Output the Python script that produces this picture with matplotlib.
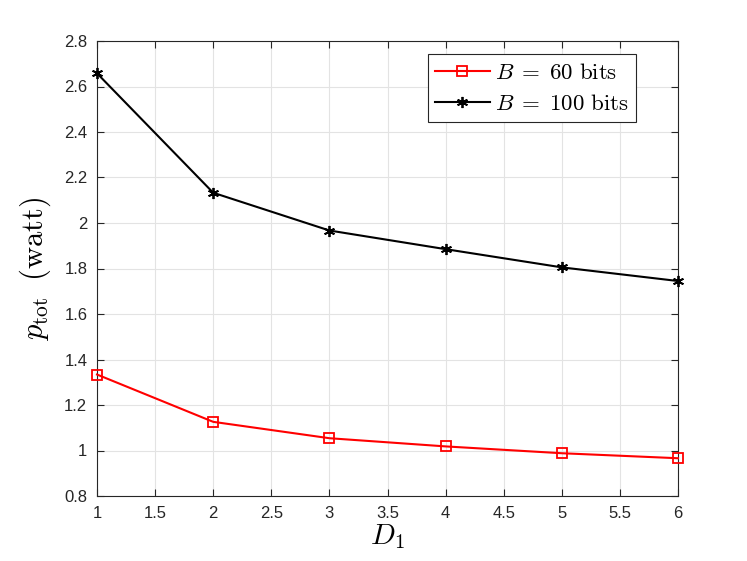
import matplotlib
matplotlib.use("Agg")
import matplotlib.pyplot as plt

plt.rcParams["font.family"] = ["Liberation Sans", "DejaVu Sans"]
plt.rcParams["mathtext.fontset"] = "cm"

d1 = [1, 2, 3, 4, 5, 6]
p_60 = [1.334, 1.126, 1.054, 1.018, 0.988, 0.966]
p_100 = [2.658, 2.133, 1.967, 1.885, 1.805, 1.745]
xticks = [1, 1.5, 2, 2.5, 3, 3.5, 4, 4.5, 5, 5.5, 6]
yticks = [0.8, 1.0, 1.2, 1.4, 1.6, 1.8, 2.0, 2.2, 2.4, 2.6, 2.8]

fig = plt.figure(figsize=(7.47, 5.61), dpi=100)
ax = fig.add_axes([97 / 747, 1 - 496 / 561, 581 / 747, 455 / 561])

ax.plot(d1, p_60, color="red", lw=1.5, marker="s", ms=7, mfc="none",
        mec="red", mew=1.3, clip_on=False, zorder=3,
        label=r"$B\;=\;60\ \mathrm{bits}$")
ax.plot(d1, p_100, color="black", lw=1.5, marker=(6, 2, 0), ms=8,
        mew=1.3, clip_on=False, zorder=3,
        label=r"$B\;=\;100\ \mathrm{bits}$")

ax.set_xlim(1, 6)
ax.set_ylim(0.8, 2.8)
ax.set_xticks(xticks)
ax.set_xticklabels([f"{v:g}" for v in xticks])
ax.set_yticks(yticks)
ax.set_yticklabels([f"{v:g}" for v in yticks])
ax.tick_params(direction="in", length=5, width=0.8, labelsize=12,
               colors="#262626", top=True, right=True, pad=7)
ax.grid(True, color="#e3e3e3", lw=0.8)
for s in ax.spines.values():
    s.set_color("#262626")
    s.set_linewidth(0.8)

ax.set_xlabel(r"$D_1$", fontsize=21, labelpad=1)
ax.set_ylabel(r"$p_{\mathrm{tot}}\;\;(\mathrm{watt})$", fontsize=22, labelpad=8)

leg = ax.legend(loc="upper right", bbox_to_anchor=(636 / 747, 1 - 54 / 561),
                bbox_transform=fig.transFigure, borderaxespad=0, fontsize=16.5,
                fancybox=False, edgecolor="#262626", framealpha=1,
                handlelength=2.4, handletextpad=0.25, borderpad=0.3,
                labelspacing=0.35)
leg.get_frame().set_linewidth(0.8)

fig.savefig("out.png", dpi=100)
